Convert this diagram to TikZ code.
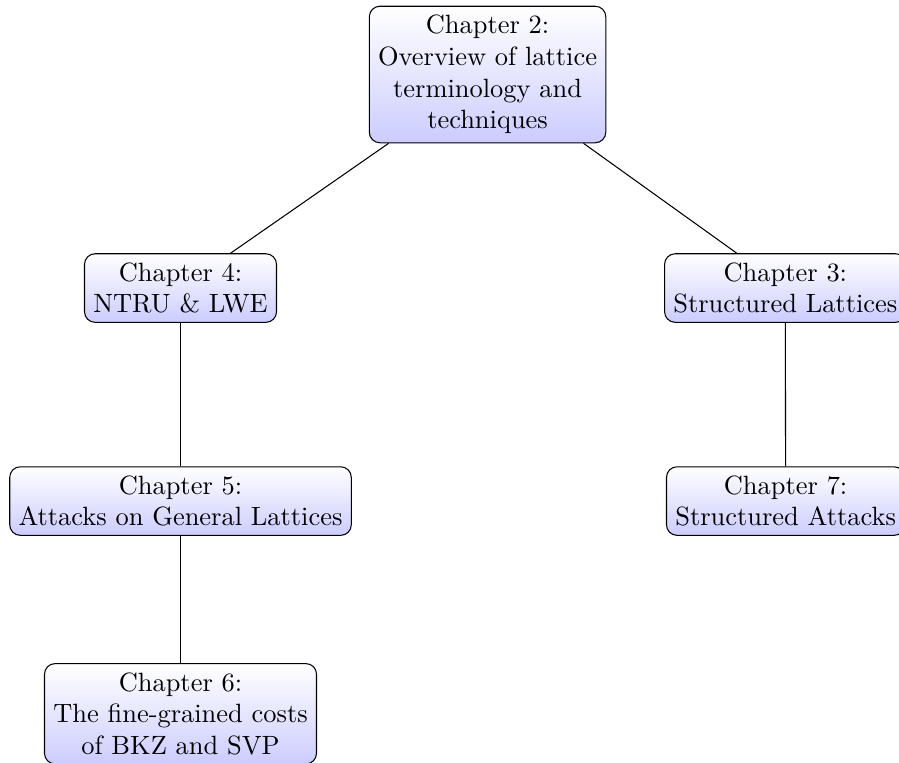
\documentclass[tikz,border=0pt]{standalone}
\usetikzlibrary{positioning}
\begin{document}
\begin{tikzpicture}[x=1pt,y=1pt,
  chap/.style={draw, rounded corners, align=center, top color=white, bottom color=blue!20, inner sep=3.333pt},
  link/.style={draw}]
\useasboundingbox (0,0) rectangle (340.1,-288.3);
\begin{scope}
\clip (0,0) rectangle (340.1,-288.3);
\node[chap] (c2) at (184.45,-28.19) {Chapter 2:\\Overview of lattice\\terminology and\\techniques};
\node[chap] (c4) at (68.29,-108.97) {Chapter 4:\\NTRU \& LWE};
\node[chap] (c3) at (297.1,-108.97) {Chapter 3:\\Structured Lattices};
\node[chap] (c5) at (68.29,-189.56) {Chapter 5:\\Attacks on General Lattices};
\node[chap] (c7) at (297.2,-189.56) {Chapter 7:\\Structured Attacks};
\node[chap, anchor=north] (c6) at (68.29,-250.85) {Chapter 6:\\The fine-grained costs\\of BKZ and SVP};
\draw[link] (c2) -- (c4);
\draw[link] (c2) -- (c3);
\draw[link] (c4) -- (c5);
\draw[link] (c5) -- (c6);
\draw[link] (c3) -- (c7);
\end{scope}
\end{tikzpicture}
\end{document}
